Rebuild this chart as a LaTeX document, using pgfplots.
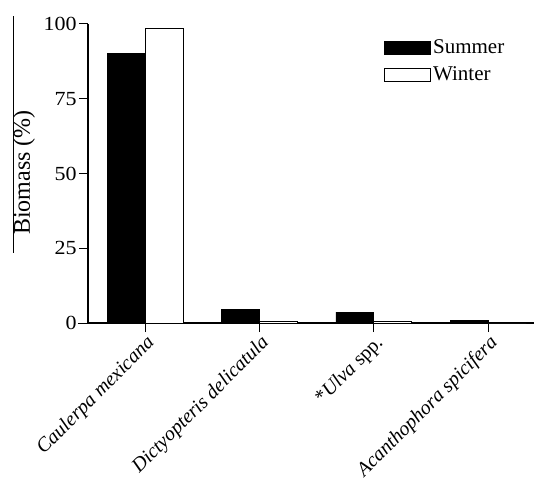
\documentclass[border=0pt]{standalone}
\usepackage{fontspec}
\setmainfont{Liberation Serif}
\usepackage{pgfplots}
\pgfplotsset{compat=1.18}
\begin{document}
\begin{tikzpicture}
\fontsize{20bp}{24bp}\selectfont
\begin{axis}[
  scale only axis,
  width=446bp, height=299bp,
  xmin=-0.5, xmax=3.4, ymin=0, ymax=100,
  axis x line=bottom, axis y line=left,
  axis line style={line width=1.2bp, -},
  ytick={0,25,50,75,100},
  yticklabels={0,25,50,75,100},
  xtick={0,1,2,3},
  xticklabels={\textit{Caulerpa mexicana},\textit{Dictyopteris delicatula},*\textit{Ulva} spp.,\textit{Acanthophora spicifera}},
  xticklabel style={rotate=45, anchor=north east, inner sep=1bp, font=\fontsize{20bp}{24bp}\selectfont},
  yticklabel style={font=\fontsize{20bp}{24bp}\selectfont, inner sep=2bp, xscale=1.1},
  tick align=outside,
  major tick length=9bp,
  tick style={line width=1bp, black},
  ylabel={Biomass (\%)},
  every axis y label/.style={at={(rel axis cs:0,0.503)}, xshift=-64bp, rotate=90, anchor=center, font=\fontsize{24bp}{28bp}\selectfont},
  ybar, bar width=0.332,
  legend style={draw=none, fill=none, at={(rel axis cs:0.664,0.955)}, anchor=north west, inner sep=0pt, row sep=6bp, font=\fontsize{21bp}{24bp}\selectfont},
  legend cell align=left,
  legend image code/.code={\draw[#1, line width=0.8bp] (0bp,-6.5bp) rectangle (46bp,6.5bp);},
]
\addplot[fill=black, draw=black, line width=0.8bp, bar shift=-0.166] coordinates {(0,90.2) (1,4.6) (2,3.6) (3,1.0)};
\addplot[fill=white, draw=black, line width=0.8bp, bar shift=0.166] coordinates {(0,98.6) (1,0.7) (2,0.4) (3,0.0)};
\legend{Summer, Winter}
\coordinate (ll) at (rel axis cs:0,0);
\end{axis}
\draw[line width=1bp] ([shift={(-10bp,0bp)}]ll) -- (ll);
\draw[line width=0.8bp] ([shift={(-75bp,70bp)}]ll) -- ([shift={(-75bp,307bp)}]ll);
\pgfresetboundingbox
\path ([shift={(-88bp,-164bp)}]ll) rectangle ([shift={(446bp,323bp)}]ll);
\end{tikzpicture}
\end{document}
